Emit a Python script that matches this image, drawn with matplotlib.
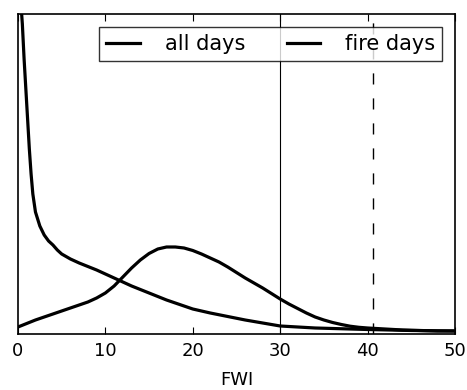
import numpy as np
import matplotlib
matplotlib.use('Agg')
import matplotlib.pyplot as plt

# all days curve (arbitrary density units)
all_x = [0.3, 0.5, 0.7, 0.9, 1.1, 1.3, 1.5, 1.7, 2.0, 2.5, 3, 3.5, 4, 4.5, 5, 6, 7, 8, 9, 10,
         11, 12, 13, 14, 15, 16, 17, 18, 19, 20, 22, 24, 26, 28, 30, 32, 34, 36, 38,
         40, 45, 50]
all_y = [335, 310, 275, 245, 215, 185, 160, 140, 122, 108, 99, 93, 89, 84, 80, 75, 71, 67.5, 64, 60,
         56, 52, 48, 44.5, 41, 37.5, 34, 31, 28, 25, 21, 17.5, 14, 11, 8, 7, 6, 5.5, 5,
         4.5, 3.5, 3]

# fire days curve
fire_x = [0, 1, 2, 3, 4, 5, 6, 7, 8, 9, 10, 11, 12, 13, 14, 15, 16, 17, 18, 19, 20,
          21, 22, 23, 24, 25, 26, 27, 28, 29, 30, 31, 32, 33, 34, 35, 36, 37, 38, 39,
          40, 42, 44, 46, 48, 50]
fire_y = [7, 10.5, 14, 17, 20, 23, 26, 29, 32, 36, 41, 48, 57, 66, 74, 80.5, 85, 87, 87, 86, 83.5,
          80, 76, 72, 67, 61.5, 56, 51, 46, 40.5, 35, 30, 25.5, 21, 17, 14, 11.5, 9.5, 7.8, 6.7,
          6, 5, 4, 3.5, 3, 3]

solid_mark = 30
dashed_mark = 40.6
xticks = [0, 10, 20, 30, 40, 50]

fig = plt.figure(figsize=(4.67, 3.9), dpi=100)
ax = fig.add_axes([0.0385, 0.1436, 0.9357, 0.8205])

ax.plot(all_x, all_y, color='black', lw=2.3, label='all days')
ax.plot(fire_x, fire_y, color='black', lw=2.3, label='fire days')
ax.axvline(solid_mark, color='black', lw=0.8)
ax.axvline(dashed_mark, color='black', lw=1.0, dashes=(8, 10))

ax.set_xlim(0, 50)
ax.set_ylim(0, 320)
ax.set_xticks(xticks)
ax.set_yticks([])
ax.tick_params(axis='x', direction='in', top=True, length=5, labelsize=13, pad=6)
for s in ax.spines.values():
    s.set_linewidth(1.2)
ax.set_xlabel('FWI', fontsize=13, labelpad=8)

leg = ax.legend(loc='upper right', ncol=2, fontsize=15, frameon=True, fancybox=False,
                handlelength=1.6, columnspacing=2.0, borderaxespad=0.6,
                handletextpad=1.2, borderpad=0.35)
leg.get_frame().set_edgecolor('black')
leg.get_frame().set_linewidth(1.0)

fig.savefig('out.png', dpi=100)
